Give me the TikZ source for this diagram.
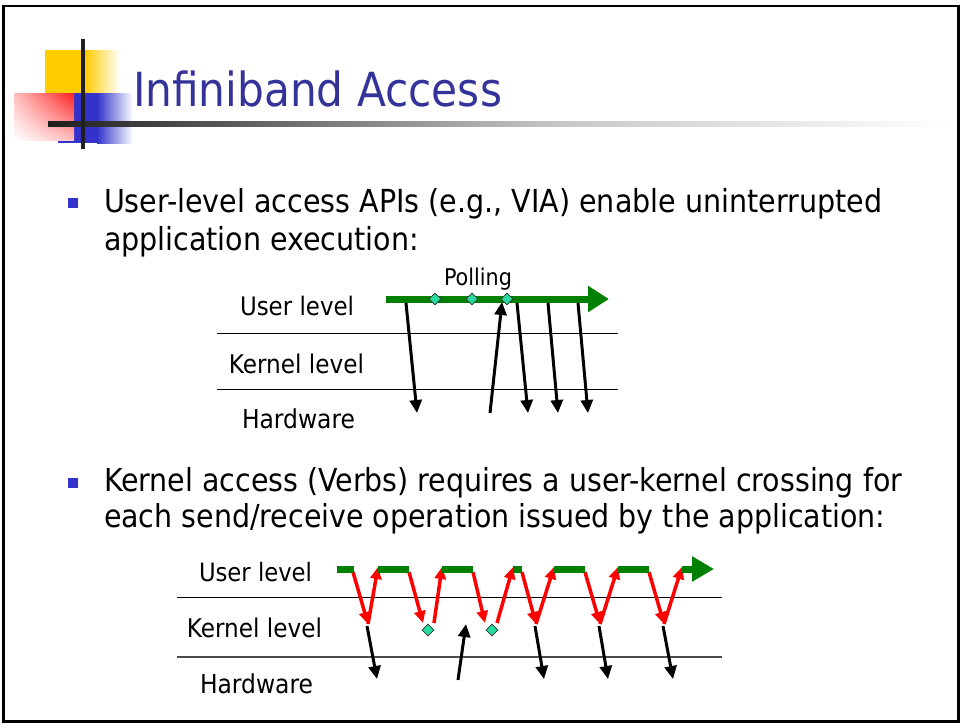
\documentclass[tikz,border=0pt]{standalone}
\usepackage{fontspec}
\setmainfont{DejaVu Sans Condensed}
\usetikzlibrary{arrows.meta,shapes.geometric,shadings}
\definecolor{titleblue}{RGB}{51,51,153}
\definecolor{bulletblue}{RGB}{51,51,204}
\definecolor{sqyellow}{RGB}{255,204,0}
\definecolor{sqblue}{RGB}{51,51,204}
\definecolor{sqred}{RGB}{255,30,30}
\definecolor{arrgreen}{RGB}{0,128,0}
\definecolor{diam}{RGB}{40,220,160}
\definecolor{arrred}{RGB}{255,0,0}
\begin{document}
\begin{tikzpicture}[x=1pt,y=-1pt,
  txt/.style={inner sep=0pt,outer sep=0pt,anchor=base},
  blk/.style={line width=3pt,black,-{Triangle[width=12pt,length=13pt]}},
  redarr/.style={line width=3.5pt,arrred,-{Triangle[width=11pt,length=12pt]}},
  grn/.style={line width=7pt,arrgreen},
  dia/.style={diamond,draw=black!80,fill=diam,line width=0.6pt,minimum size=12pt,inner sep=0pt},
  lvl/.style={line width=0.9pt,black},
  lvlb/.style={line width=1.3pt,black!70},
  bullet/.style={fill=bulletblue,minimum size=10pt,inner sep=0pt,draw=none}]
\useasboundingbox (0,0) rectangle (960,724);
\fill[white] (0,0) rectangle (960,724);
% slide frame
\draw[line width=2.5pt,black] (3.5,6) rectangle (958.5,721.5);

% title decoration
\fill[sqyellow] (45,50) rectangle (85,93);
\shade[left color=sqyellow,right color=white] (85,50) rectangle (120,93);
\fill[sqblue] (58,93) rectangle (97,143);
\shade[left color=sqblue,right color=white] (97,93) rectangle (133,143);
\shade[upper right=sqred,upper left=red!25,lower right=red!25,lower left=white] (14,93) rectangle (74,140);
\shade[left color=black!88,right color=black!22] (48,121.5) rectangle (560,126);
\shade[left color=black!22,right color=white] (560,121.5) rectangle (950,126);
\fill[black!88] (81,39) rectangle (85,149);

% title
\node[txt,anchor=base west,text=titleblue] (title) at (133,106) {\resizebox{369pt}{!}{Infiniband Access}};

% bullets
\node[bullet] (b1) at (73,203) {};
\node[txt,anchor=base west] (t1) at (104,212) {\resizebox{778pt}{!}{\fontsize{10}{12}\selectfont\begin{tabular}[t]{@{}l@{}}User-level access APIs (e.g., VIA) enable uninterrupted\\application execution:\end{tabular}}};
\node[bullet] (b2) at (73,483) {};
\node[txt,anchor=base west] (t2) at (104,491) {\resizebox{798pt}{!}{\fontsize{10}{11.6}\selectfont\begin{tabular}[t]{@{}l@{}}Kernel access (Verbs) requires a user-kernel crossing for\\each send/receive operation issued by the application:\end{tabular}}};

% ---------- diagram 1 ----------
\coordinate (d1l1a) at (217,333); \coordinate (d1l1b) at (618,333);
\coordinate (d1l2a) at (217,389); \coordinate (d1l2b) at (618,389);
\draw[lvl] (d1l1a) -- (d1l1b);
\draw[lvl] (d1l2a) -- (d1l2b);
\node[txt] (u1) at (297,315) {\resizebox{114pt}{!}{User level}};
\node[txt] (k1) at (296.5,373) {\resizebox{135pt}{!}{Kernel level}};
\node[txt] (h1) at (298.5,428) {\resizebox{113pt}{!}{Hardware}};
\node[txt] (poll) at (478,285) {\resizebox{68pt}{!}{Polling}};

\coordinate (g1s) at (386,299); \coordinate (g1e) at (609,299);
\coordinate (a1s) at (406,303); \coordinate (a1e) at (417,413);
\coordinate (a2s) at (490,413); \coordinate (a2e) at (502,302);
\coordinate (a3s) at (517,303); \coordinate (a3e) at (528,413);
\coordinate (a4s) at (548,303); \coordinate (a4e) at (558,413);
\coordinate (a5s) at (578,303); \coordinate (a5e) at (588,413);
\draw[grn,-{Triangle[width=25pt,length=21pt]}] (g1s) -- (g1e);
\draw[blk] (a1s) -- (a1e);
\draw[blk] (a2s) -- (a2e);
\draw[blk] (a3s) -- (a3e);
\draw[blk] (a4s) -- (a4e);
\draw[blk] (a5s) -- (a5e);
\node[dia] (p1) at (435,299) {};
\node[dia] (p2) at (472,299) {};
\node[dia] (p3) at (507,299) {};

% ---------- diagram 2 ----------
\coordinate (d2l1a) at (177,597); \coordinate (d2l1b) at (722,597);
\coordinate (d2l2a) at (177,657); \coordinate (d2l2b) at (722,657);
\draw[lvl] (d2l1a) -- (d2l1b);
\draw[lvlb] (d2l2a) -- (d2l2b);
\node[txt] (u2) at (255.5,581) {\resizebox{113pt}{!}{User level}};
\node[txt] (k2) at (254.5,637) {\resizebox{135pt}{!}{Kernel level}};
\node[txt] (h2) at (256.5,693) {\resizebox{113pt}{!}{Hardware}};

% kernel turning points
\coordinate (k1p) at (368,624);
\coordinate (k2p) at (423,623);
\coordinate (k3p) at (485,623);
\coordinate (k4p) at (536,624);
\coordinate (k5p) at (600,624);
\coordinate (k6p) at (664,624);
\coordinate (k2u) at (434,623);
\coordinate (k3u) at (497,623);
% green segment ends
\coordinate (s1a) at (337,569); \coordinate (s1b) at (354,569);
\coordinate (s2a) at (378,569); \coordinate (s2b) at (409,569);
\coordinate (s3a) at (442,569); \coordinate (s3b) at (473,569);
\coordinate (s4a) at (513,569); \coordinate (s4b) at (522,569);
\coordinate (s5a) at (554,569); \coordinate (s5b) at (585,569);
\coordinate (s6a) at (618,569); \coordinate (s6b) at (649,569);
\coordinate (s7a) at (682,569); \coordinate (s7b) at (714,569);
\coordinate (r1s) at (353,572); \coordinate (r2s) at (409,572); \coordinate (r3s) at (473,572);
\coordinate (r4s) at (522,572); \coordinate (r5s) at (585,572); \coordinate (r6s) at (649,572);
\coordinate (u2e) at (378,567); \coordinate (u3e) at (442,567); \coordinate (u4e) at (513,567);
\coordinate (u5e) at (554,567); \coordinate (u6e) at (618,567); \coordinate (u7e) at (682,567);

\draw[redarr] (r1s) -- (k1p);
\draw[redarr] (k1p) -- (u2e);
\draw[redarr] (r2s) -- (k2p);
\draw[redarr] (k2u) -- (u3e);
\draw[redarr] (r3s) -- (k3p);
\draw[redarr] (k3u) -- (u4e);
\draw[redarr] (r4s) -- (k4p);
\draw[redarr] (k4p) -- (u5e);
\draw[redarr] (r5s) -- (k5p);
\draw[redarr] (k5p) -- (u6e);
\draw[redarr] (r6s) -- (k6p);
\draw[redarr] (k6p) -- (u7e);

\draw[grn] (s1a) -- (s1b);
\draw[grn] (s2a) -- (s2b);
\draw[grn] (s3a) -- (s3b);
\draw[grn] (s4a) -- (s4b);
\draw[grn] (s5a) -- (s5b);
\draw[grn] (s6a) -- (s6b);
\draw[grn,-{Triangle[width=24pt,length=22pt]}] (s7a) -- (s7b);

\node[dia] (q1) at (428,630) {};
\node[dia] (q2) at (492,630) {};

% black arrows to/from hardware
\coordinate (h1s) at (367,626); \coordinate (h1e) at (377,679);
\coordinate (h2s) at (458,680); \coordinate (h2e) at (466,624);
\coordinate (h3s) at (535,626); \coordinate (h3e) at (544,679);
\coordinate (h4s) at (599,626); \coordinate (h4e) at (608,679);
\coordinate (h5s) at (663,626); \coordinate (h5e) at (673,679);
\draw[blk] (h1s) -- (h1e);
\draw[blk] (h2s) -- (h2e);
\draw[blk] (h3s) -- (h3e);
\draw[blk] (h4s) -- (h4e);
\draw[blk] (h5s) -- (h5e);
\end{tikzpicture}
\end{document}
